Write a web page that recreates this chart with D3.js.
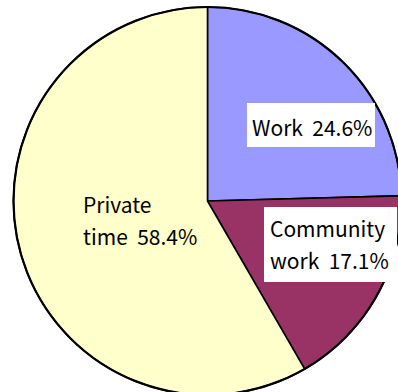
<!DOCTYPE html>
<html>
<head>
<meta charset="utf-8">
<script src="https://cdn.jsdelivr.net/npm/d3@7"></script>
<style>
  html, body { margin: 0; padding: 0; background: #fff; }
  svg { display: block; }
  text { font-family: "Noto Sans CJK JP", "Noto Sans", sans-serif; fill: #000; }
</style>
</head>
<body>
<svg id="chart" width="398" height="392"></svg>
<script>
// Share of time by activity
const categories = ["Work", "Community work", "Private time"];
const values = [24.6, 17.1, 58.4];
const labelLines = [["Work  24.6%"], ["Community", "work  17.1%"], ["Private", "time  58.4%"]];
const colors = ["#9999FF", "#993366", "#FFFFCC"];

const W = 398, H = 392;
const cx = 207.5, cy = 201, R = 194;
const fontSize = 21;
const lineGap = 31.5;

// label placement relative to the pie centre, plus optional white box
const labelLayout = [
  { dx: 44.5, dy: -65, box: { l: 5, t: 33, w: 128, h: 44 } },
  { dx: 62.5, dy: 36, box: { l: 6, t: 30, w: 133, h: 75 } },
  { dx: -124.5, dy: 12, box: null }
];

const svg = d3.select("#chart");
const g = svg.append("g").attr("transform", `translate(${cx},${cy})`);

const pie = d3.pie().sort(null).value(d => d)(values);
const arc = d3.arc().innerRadius(0).outerRadius(R);

g.selectAll("path.slice")
  .data(pie)
  .join("path")
  .attr("class", "slice")
  .attr("d", arc)
  .attr("fill", (d, i) => colors[i])
  .attr("stroke", "#000")
  .attr("stroke-width", 1.6)
  .attr("stroke-linejoin", "round");

// outer rim
g.append("circle")
  .attr("r", R)
  .attr("fill", "none")
  .attr("stroke", "#000")
  .attr("stroke-width", 2.2);

const labels = g.selectAll("g.label")
  .data(pie)
  .join("g")
  .attr("class", "label")
  .attr("transform", (d, i) => `translate(${labelLayout[i].dx},${labelLayout[i].dy})`);

labels.each(function(d, i) {
  const sel = d3.select(this);
  const b = labelLayout[i].box;
  if (b) {
    sel.append("rect")
      .attr("x", -b.l).attr("y", -b.t)
      .attr("width", b.w).attr("height", b.h)
      .attr("fill", "#fff");
  }
  labelLines[i].forEach((line, k) => {
    sel.append("text")
      .attr("x", 0)
      .attr("y", k * lineGap)
      .attr("font-size", fontSize)
      .style("white-space", "pre")
      .attr("xml:space", "preserve")
      .text(line);
  });
});
</script>
</body>
</html>
